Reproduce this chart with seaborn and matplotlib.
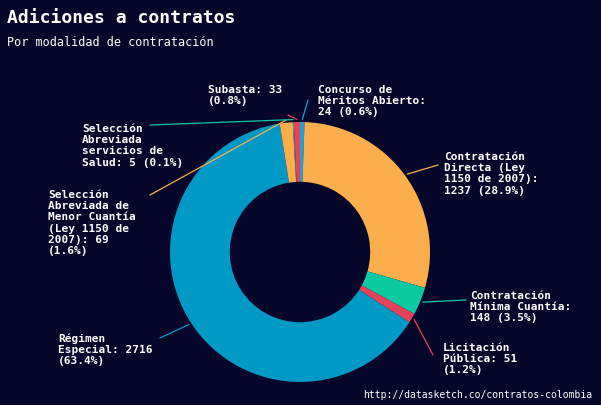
import matplotlib
matplotlib.use("Agg")
import matplotlib.pyplot as plt
import seaborn as sns
import numpy as np

sns.set_theme(style="white")
plt.rcParams['font.family'] = ['DejaVu Sans Mono']

labels = ["Concurso de\nMéritos Abierto:\n24 (0.6%)",
          "Contratación\nDirecta (Ley\n1150 de 2007):\n1237 (28.9%)",
          "Contratación\nMínima Cuantía:\n148 (3.5%)",
          "Licitación\nPública: 51\n(1.2%)",
          "Régimen\nEspecial: 2716\n(63.4%)",
          "Selección\nAbreviada de\nMenor Cuantía\n(Ley 1150 de\n2007): 69\n(1.6%)",
          "Selección\nAbreviada\nservicios de\nSalud: 5 (0.1%)",
          "Subasta: 33\n(0.8%)"]
values = [24, 1237, 148, 51, 2716, 69, 5, 33]
colors = ["#1aa3d9", "#fdae4c", "#0bc9a3", "#e8415a", "#0099c6", "#fdae4c", "#0bc9a3", "#e8415a"]
text_px = [(318, 85), (444, 152), (470, 291), (443, 343), (58, 333), (48, 190), (82, 124), (208, 85)]
line_end_px = [(308, 100), (438, 165), (466, 300), (433, 355), (160, 338), (150, 195), (150, 125), (288, 115)]

bg = "#06062a"
fig = plt.figure(figsize=(6.01, 4.05), dpi=100, facecolor=bg)
ax = fig.add_axes([0, 0, 1, 1], facecolor=bg)
cx, cy, R = 300, 252, 130

wedges, _ = ax.pie(values, colors=colors, startangle=90, counterclock=False,
                   radius=1, wedgeprops=dict(width=0.46, edgecolor='none'))
ax.set_xlim(-cx / R, (601 - cx) / R)
ax.set_ylim(-(405 - cy) / R, cy / R)
ax.set_aspect('auto')
ax.axis('off')

for w, lab, (px, py), (ex, ey), c in zip(wedges, labels, text_px, line_end_px, colors):
    ang = np.deg2rad((w.theta1 + w.theta2) / 2)
    x0, y0 = np.cos(ang) * 1.02, np.sin(ang) * 1.02
    tx, ty = (px - cx) / R, (cy - py) / R
    lx, ly = (ex - cx) / R, (cy - ey) / R
    ax.plot([x0, lx], [y0, ly], color=c, lw=0.9)
    ax.text(tx, ty, lab, color="white", fontsize=8, fontweight='bold',
            ha='left', va='top', linespacing=1.15)

fig.text(0.012, 0.955, "Adiciones a contratos", color="white", fontsize=13,
         fontweight='bold', va='center')
fig.text(0.012, 0.895, "Por modalidad de contratación", color="white",
         fontsize=8.5, va='center')
fig.text(0.985, 0.012, "http://datasketch.co/contratos-colombia", color="white",
         fontsize=7, ha='right', va='bottom')
fig.savefig("out.png", dpi=100, facecolor=bg)
